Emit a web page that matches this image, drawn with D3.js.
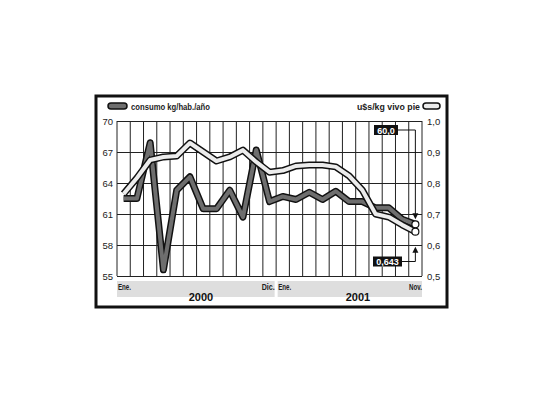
<!DOCTYPE html>
<html>
<head>
<meta charset="utf-8">
<script src="https://cdn.jsdelivr.net/npm/d3@7"></script>
<style>
  body { margin: 0; background: #fff; }
  svg { display: block; }
  text { font-family: "Liberation Sans", Arial, sans-serif; }
</style>
</head>
<body>
<div id="chart"></div>
<script>
// data
const months = ["Ene 2000", "Feb 2000", "Mar 2000", "Abr 2000", "May 2000", "Jun 2000",
    "Jul 2000", "Ago 2000", "Sep 2000", "Oct 2000", "Nov 2000", "Dic 2000",
    "Ene 2001", "Feb 2001", "Mar 2001", "Abr 2001", "May 2001", "Jun 2001",
    "Jul 2001", "Ago 2001", "Sep 2001", "Oct 2001", "Nov 2001"];
const consumo = [62.5, 62.5, 67.9, 55.6, 63.3, 64.6, 61.5, 61.5, 63.3, 60.7, 67.2, 62.2,
    62.7, 62.4, 63.1, 62.4, 63.2, 62.2, 62.2, 61.6, 61.6, 60.5, 60.0];
const precio = [0.765, 0.816, 0.874, 0.884, 0.887, 0.929, 0.900, 0.871, 0.884, 0.906, 0.868, 0.835,
    0.840, 0.855, 0.858, 0.858, 0.852, 0.823, 0.777, 0.700, 0.690, 0.665, 0.643];
const leftTicks = [70, 67, 64, 61, 58, 55];
const rightTicks = [1.0, 0.9, 0.8, 0.7, 0.6, 0.5];
const years = ["2000", "2001"];
const endLabels = ["60,0", "0,643"];

const width = 540, height = 405;
const plot = { left: 117, right: 422, top: 121, bottom: 276 };

const svg = d3.select("#chart").append("svg")
    .attr("width", width)
    .attr("height", height);

// outer frame
svg.append("rect")
    .attr("x", 96).attr("y", 96)
    .attr("width", 351).attr("height", 211)
    .attr("fill", "#fff")
    .attr("stroke", "#111")
    .attr("stroke-width", 3);

const x = d3.scaleBand().domain(months).range([plot.left, plot.right]).padding(0);
const yL = d3.scaleLinear().domain([55, 70]).range([plot.bottom, plot.top]);
const yR = d3.scaleLinear().domain([0.5, 1.0]).range([plot.bottom, plot.top]);
const cx = d => x(d) + x.bandwidth() / 2;

// vertical grid at month boundaries
const vLines = months.map(m => x(m)).concat([plot.right]);
svg.append("g").selectAll("line").data(vLines).enter().append("line")
    .attr("x1", d => d).attr("x2", d => d)
    .attr("y1", plot.top).attr("y2", plot.bottom)
    .attr("stroke", "#222").attr("stroke-width", 1);

// left axis + horizontal grid
const leftAxis = svg.append("g")
    .attr("transform", `translate(${plot.left},0)`)
    .call(d3.axisLeft(yL).tickValues(leftTicks).tickSize(-(plot.right - plot.left)).tickPadding(4));
leftAxis.select(".domain").remove();
leftAxis.selectAll(".tick line").attr("stroke", "#222");
leftAxis.selectAll(".tick text")
    .attr("font-size", 9.5).attr("fill", "#222")
    .style("font-family", "'Liberation Sans', Arial, sans-serif");

// right axis
const rightAxis = svg.append("g")
    .attr("transform", `translate(${plot.right},0)`)
    .call(d3.axisRight(yR).tickValues(rightTicks).tickSize(0).tickPadding(5)
        .tickFormat(d => d.toFixed(1).replace(".", ",")));
rightAxis.select(".domain").remove();
rightAxis.selectAll(".tick text")
    .attr("font-size", 9.5).attr("fill", "#222")
    .style("font-family", "'Liberation Sans', Arial, sans-serif");

// lines
const idx = d3.range(months.length);
const lineC = d3.line().x(i => cx(months[i])).y(i => yL(consumo[i]));
const lineP = d3.line().x(i => cx(months[i])).y(i => yR(precio[i]));

svg.append("path").datum(idx).attr("d", lineC)
    .attr("fill", "none").attr("stroke", "#111").attr("stroke-width", 7)
    .attr("stroke-linejoin", "round");
svg.append("path").datum(idx).attr("d", lineC)
    .attr("fill", "none").attr("stroke", "#6e6e6e").attr("stroke-width", 4)
    .attr("stroke-linejoin", "round");
svg.append("path").datum(idx).attr("d", lineP)
    .attr("fill", "none").attr("stroke", "#111").attr("stroke-width", 7)
    .attr("stroke-linejoin", "round");
svg.append("path").datum(idx).attr("d", lineP)
    .attr("fill", "none").attr("stroke", "#ececec").attr("stroke-width", 4)
    .attr("stroke-linejoin", "round");

// end markers
const last = months.length - 1;
const lx = cx(months[last]);
svg.append("circle").attr("cx", lx).attr("cy", yL(consumo[last])).attr("r", 3.5)
    .attr("fill", "#fff").attr("stroke", "#111").attr("stroke-width", 1.2);
svg.append("circle").attr("cx", lx).attr("cy", yR(precio[last])).attr("r", 3.5)
    .attr("fill", "#fff").attr("stroke", "#111").attr("stroke-width", 1.2);

// callouts
const callout = svg.append("g");
callout.append("rect").attr("x", 374).attr("y", 125).attr("width", 24).attr("height", 10).attr("fill", "#111");
callout.append("text").attr("x", 386).attr("y", 133.5).attr("text-anchor", "middle")
    .attr("font-size", 9).attr("font-weight", "bold").attr("fill", "#fff").text(endLabels[0]);
callout.append("path")
    .attr("d", `M398,130H${lx}V${yL(consumo[last]) - 9}`)
    .attr("fill", "none").attr("stroke", "#111").attr("stroke-width", 1);
callout.append("path")
    .attr("d", `M${lx - 3},${yL(consumo[last]) - 11}L${lx + 3},${yL(consumo[last]) - 11}L${lx},${yL(consumo[last]) - 5}Z`)
    .attr("fill", "#111");

callout.append("rect").attr("x", 373).attr("y", 256.5).attr("width", 29).attr("height", 10).attr("fill", "#111");
callout.append("text").attr("x", 387.5).attr("y", 265).attr("text-anchor", "middle")
    .attr("font-size", 9).attr("font-weight", "bold").attr("fill", "#fff").text(endLabels[1]);
callout.append("path")
    .attr("d", `M402,261.5H${lx}V${yR(precio[last]) + 19}`)
    .attr("fill", "none").attr("stroke", "#111").attr("stroke-width", 1);
callout.append("path")
    .attr("d", `M${lx - 3},${yR(precio[last]) + 21}L${lx + 3},${yR(precio[last]) + 21}L${lx},${yR(precio[last]) + 15}Z`)
    .attr("fill", "#111");

// legend
svg.append("rect").attr("x", 108).attr("y", 103).attr("width", 19).attr("height", 6).attr("rx", 3)
    .attr("fill", "#6e6e6e").attr("stroke", "#111").attr("stroke-width", 1.5);
svg.append("text").attr("x", 131).attr("y", 109.5)
    .attr("font-size", 9.5).attr("font-weight", "bold").attr("fill", "#222")
    .attr("textLength", 79).attr("lengthAdjust", "spacingAndGlyphs")
    .text("consumo kg/hab./año");
svg.append("rect").attr("x", 423).attr("y", 103).attr("width", 17).attr("height", 6).attr("rx", 3)
    .attr("fill", "#ececec").attr("stroke", "#111").attr("stroke-width", 1.5);
svg.append("text").attr("x", 357).attr("y", 109.5)
    .attr("font-size", 9.5).attr("font-weight", "bold").attr("fill", "#222")
    .attr("textLength", 63).attr("lengthAdjust", "spacingAndGlyphs")
    .text("u$s/kg vivo pie");

// bottom strip with months and years
const split = x(months[12]);
svg.append("rect").attr("x", plot.left).attr("y", 281).attr("width", split - 1.5 - plot.left).attr("height", 16)
    .attr("fill", "#dedede");
svg.append("rect").attr("x", split + 1.5).attr("y", 281).attr("width", plot.right - split - 1.5).attr("height", 16)
    .attr("fill", "#dedede");

const monthText = [
    { t: "Ene.", x: plot.left + 1, a: "start" },
    { t: "Dic.", x: split - 1.5, a: "end" },
    { t: "Ene.", x: split + 2, a: "start" },
    { t: "Nov.", x: plot.right, a: "end" }
];
svg.append("g").selectAll("text").data(monthText).enter().append("text")
    .attr("x", d => d.x).attr("y", 289.5)
    .attr("text-anchor", d => d.a)
    .attr("font-size", 8.5).attr("font-weight", "bold").attr("fill", "#222")
    .attr("textLength", 13).attr("lengthAdjust", "spacingAndGlyphs")
    .text(d => d.t);

svg.append("g").selectAll("text").data(years).enter().append("text")
    .attr("x", (d, i) => i === 0 ? 201 : 358).attr("y", 300.5)
    .attr("text-anchor", "middle")
    .attr("font-size", 11).attr("font-weight", "bold").attr("fill", "#111")
    .text(d => d);
</script>
</body>
</html>
